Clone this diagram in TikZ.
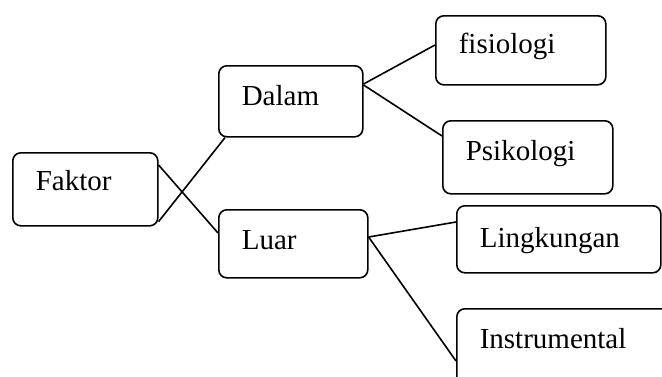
\documentclass[tikz,border=0pt]{standalone}
\usepackage{fontspec}
\setmainfont{Liberation Serif}
\begin{document}
\begin{tikzpicture}[
	x=1pt, y=-1pt,
	kotak/.style={
		rectangle,
		rounded corners=8pt,
		draw=black,
		line width=1.6pt,
		anchor=north west,
		inner xsep=23pt,
		inner ysep=0pt,
		align=left,
		font=\fontsize{29}{34}\selectfont
	},
	garis/.style={line width=1.6pt}
]

\useasboundingbox (0,0) rectangle (662,376);

% Akar
\node[kotak, text width=99pt, text height=38pt, text depth=35pt] (faktor) at (12,152) {Faktor};

% Cabang pertama
\node[kotak, text width=98pt, text height=40pt, text depth=31pt] (dalam) at (218,65) {Dalam};
\node[kotak, text width=103pt, text height=40pt, text depth=28pt] (luar) at (218,209) {Luar};

% Cabang dari Dalam
\node[kotak, text width=124pt, text height=38pt, text depth=31pt] (fisiologi) at (435,15) {fisiologi};
\node[kotak, text width=124pt, text height=40pt, text depth=33pt] (psikologi) at (442,120) {Psikologi};

% Cabang dari Luar
\node[kotak, text width=158pt, text height=42pt, text depth=25pt] (lingkungan) at (456,205) {Lingkungan};
\node[kotak, text width=168pt, text height=40pt, text depth=37pt] (instrumental) at (456,308) {Instrumental};

% Garis penghubung
\draw[garis] ([yshift=5pt]faktor.south east) -- ([xshift=7pt]dalam.south west);
\draw[garis] ([yshift=-13pt]faktor.north east) -- ([yshift=-24pt]luar.north west);
\draw[garis] ([yshift=-19pt]dalam.north east) -- ([yshift=-30pt]fisiologi.north west);
\draw[garis] ([yshift=-20pt]dalam.north east) -- ([yshift=-16pt]psikologi.north west);
\draw[garis] ([yshift=-28pt]luar.north east) -- ([yshift=-17pt]lingkungan.north west);
\draw[garis] ([yshift=-28pt]luar.north east) -- ([yshift=-53pt]instrumental.north west);

\end{tikzpicture}
\end{document}
